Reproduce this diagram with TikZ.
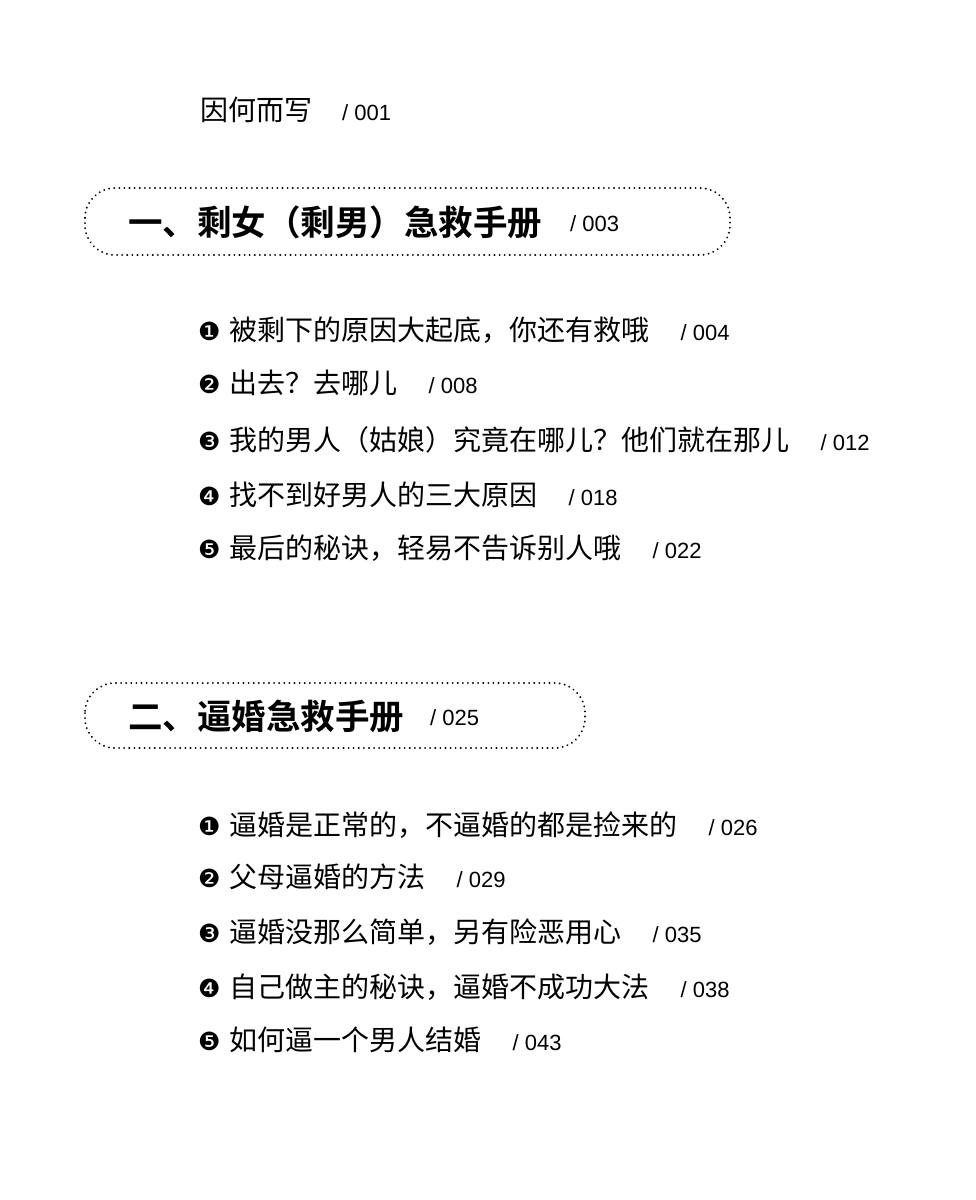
\documentclass[tikz,border=0pt]{standalone}
\usepackage{fontspec}
\setmainfont{Noto Sans CJK SC}
\newfontfamily\cjkb{Noto Sans CJK SC Bold}
\newfontfamily\dv{DejaVu Sans}
\newfontfamily\numf{Liberation Sans}
\newcommand\pgn[1]{{\numf\fontsize{22}{24}\selectfont/ #1}}
\begin{document}
\begin{tikzpicture}[x=1pt,y=-1pt,
  item/.style={anchor=west,inner sep=0pt,font=\fontsize{28}{30}\selectfont},
  head/.style={anchor=west,inner sep=0pt,font=\fontsize{34.5}{38}\cjkb},
  pg/.style={anchor=west,inner sep=0pt},
  hbox/.style={draw,line width=2pt,dash pattern=on 0.1pt off 5pt,line cap=round,rounded corners=30pt}]
\useasboundingbox[fill=white] (0,0) rectangle (976,1200);
\node[item] (t0) at (200,110) {因何而写\hspace{30pt}\pgn{001}};
\draw[hbox] (85,188) rectangle (730,255);
\node[head] (h1) at (128,222) {一、剩女（剩男）急救手册};
\node[pg] (p1) at (570,224) {\pgn{003}};
\foreach \y/\n/\t/\p in {330/❶/{被剩下的原因大起底，你还有救哦}/{004},
  383/❷/{出去？去哪儿}/{008},
  440/❸/{我的男人（姑娘）究竟在哪儿？他们就在那儿}/{012},
  495/❹/{找不到好男人的三大原因}/{018},
  548/❺/{最后的秘诀，轻易不告诉别人哦}/{022}}{
  \node[item] at (198,\y) {{\dv\fontsize{25}{26}\selectfont\n}\kern9pt\t\hspace{31pt}\pgn{\p}};
}
\draw[hbox] (85,683) rectangle (585,748);
\node[head] (h2) at (128,716) {二、逼婚急救手册};
\node[pg] (p2) at (430,718) {\pgn{025}};
\foreach \y/\n/\t/\p in {825/❶/{逼婚是正常的，不逼婚的都是捡来的}/{026},
  877/❷/{父母逼婚的方法}/{029},
  932/❸/{逼婚没那么简单，另有险恶用心}/{035},
  987/❹/{自己做主的秘诀，逼婚不成功大法}/{038},
  1040/❺/{如何逼一个男人结婚}/{043}}{
  \node[item] at (198,\y) {{\dv\fontsize{25}{26}\selectfont\n}\kern9pt\t\hspace{31pt}\pgn{\p}};
}
\end{tikzpicture}
\end{document}
